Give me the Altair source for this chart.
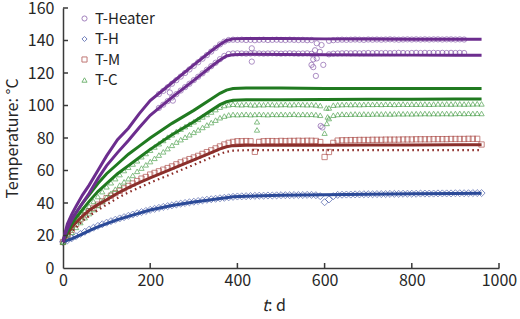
import altair as alt
import pandas as pd

# ---------------- simulated curves ----------------
t_sim = [0, 5, 10, 20, 30, 45, 60, 80, 100, 125, 150, 175, 200, 250, 300,
         340, 360, 375, 390, 420, 500, 600, 700, 800, 900, 960]

heater_hi_sim = [16, 22, 27, 33, 38, 45, 51, 60, 69, 79, 86, 95, 103, 114, 125,
                 133.5, 137.5, 140, 141, 141.3, 141.2, 141, 140.9, 140.8, 140.8, 140.8]
heater_lo_sim = [16, 20.5, 24, 29.5, 34, 40, 46, 55, 63, 71, 78.5, 86.5, 94, 105, 115.5,
                 124, 128, 130.5, 131.3, 131.5, 131.4, 131.2, 131.1, 131, 131, 131]
tc_hi_sim = [16, 21, 25, 30, 34, 40, 45, 52, 58, 64, 70, 75, 80, 89, 97,
             104, 107.5, 109.5, 110.5, 110.8, 110.7, 110.5, 110.5, 110.4, 110.4, 110.4]
tc_lo_sim = [16, 19, 22, 27, 31, 36, 41, 47, 52, 58, 63, 68, 73, 82, 90,
             97, 100.5, 102.3, 103.2, 103.5, 103.6, 103.7, 103.8, 103.9, 104, 104]
tm_sim = [16, 19, 21, 25, 28, 32, 35.5, 39, 42, 46, 49.5, 52.5, 55.5, 61, 66.5,
          71, 73.3, 74.6, 75.3, 75.5, 75.6, 75.6, 75.7, 75.7, 75.8, 75.8]
tm_sim_alt = [16, 18, 19.5, 22.5, 25, 29, 32, 35.5, 39, 43, 46.5, 49.5, 52.5, 58, 63.5,
              68, 70.2, 71.5, 72.2, 72.5, 72.5, 72.5, 72.6, 72.6, 72.6, 72.6]
th_sim = [16, 16.5, 17, 18, 19.2, 21, 23, 25.3, 27.3, 29.8, 31.8, 33.8, 35.7, 38.5, 40.6,
          42, 42.8, 43.3, 43.8, 44.2, 44.8, 45.1, 45.4, 45.7, 45.9, 46]

# ---------------- measured series (10-day sampling) ----------------
t_grid = [0, 10, 20, 30, 40, 50, 60, 70, 80, 90,
          100, 110, 120, 130, 140, 150, 160, 170, 180, 190,
          200, 210, 220, 230, 240, 250, 260, 270, 280, 290,
          300, 310, 320, 330, 340, 350, 360, 370, 380, 390,
          400, 410, 420, 430, 440, 450, 460, 470, 480, 490,
          500, 510, 520, 530, 540, 550, 560, 570, 580, 590,
          600, 610, 620, 630, 640, 650, 660, 670, 680, 690,
          700, 710, 720, 730, 740, 750, 760, 770, 780, 790,
          800, 810, 820, 830, 840, 850, 860, 870, 880, 890,
          900, 910, 920, 930, 940, 950, 960]

heater_hi_meas = [None] * 22 + [
    107, 109, 111.2, 113.4, 115.6, 117.8, 120, 122.2,
    124.4, 126.6, 128.8, 131, 133.2, 135.4, 137.6, 139.3, 140.3, 140.5,
    140.4, 140.5, 140.3, 140.4, 140.2, 140.4, 140.5, 140.3, 140.4, 140.5,
    140.4, 140.3, 140.5, 140.4, 140.3, 140.4, 140.2, 140.3, None, None,
    None, 139.8, 140.2, 140.4, 140.5, 140.4, 140.5, 140.6, 140.5, 140.4,
    140.6, 140.5, 140.6, 140.5, 140.6, 140.7, 140.6, 140.5, 140.6, 140.7,
    140.6, 140.7, 140.6, 140.7, 140.6, 140.7, 140.7, 140.6, 140.7, 140.7,
    140.6, 140.7, 140.6]
heater_lo_meas = [None] * 22 + [
    98.5, 100.5, 102.7, 104.9, 107, 109.2, 111.3, 113.4,
    115.6, 117.7, 119.8, 122, 124.2, 126.3, 128.5, 130.5, 131.7, 132,
    132.1, 132, 131.9, 132, 132.1, 132, 131.9, 132, 132.1, 132,
    131.9, 132, 132.1, 132, 131.9, 132, 132.1, 131.8, None, None,
    None, 131.5, 131.9, 132, 132.1, 132.2, 132.1, 132.2, 132.1, 132.2,
    132.3, 132.2, 132.3, 132.2, 132.3, 132.2, 132.3, 132.4, 132.3, 132.2,
    132.3, 132.4, 132.3, 132.4, 132.3, 132.4, 132.3, 132.4, 132.3, 132.4,
    132.3, 132.4, 132.3]
heater_out_t = [245, 252, 433, 433, 570, 574, 574, 578, 580, 582, 582, 589, 593, 597, 591, 595]
heater_out_v = [108, 103, 135.2, 127, 125, 128.4, 123.6, 134, 118.2, 138.3, 129, 133, 137.2, 125, 87.4, 86.5]

th_meas = [16, 17, 18.3, 19.6, 21, 22.3, 23.6, 24.8, 25.9, 26.9,
           27.9, 28.8, 29.7, 30.5, 31.3, 32.1, 32.9, 33.7, 34.4, 35.1,
           35.8, 36.4, 37, 37.6, 38.1, 38.6, 39.1, 39.6, 40, 40.4,
           40.8, 41.2, 41.6, 42, 42.3, 42.6, 42.9, 43.2, 43.5, 43.8,
           44, 44.1, 44.2, 44.3, 44.4, 44.5, 44.5, 44.6, 44.6, 44.7,
           44.8, 44.8, 44.8, 44.9, 44.9, 44.9, 45, 45, 44.8, 44.2,
           40.5, 42.2, 44.2, 45, 45.1, 45.2, 45.2, 45.3, 45.3, 45.4,
           45.4, 45.4, 45.5, 45.5, 45.5, 45.6, 45.6, 45.6, 45.7, 45.7,
           45.7, 45.7, 45.8, 45.8, 45.8, 45.8, 45.9, 45.9, 45.9, 45.9,
           46, 46, 46, 46, 46.1, 46.1, 46.1]

tm_meas = [16, 20, 23.5, 27, 30, 32.5, 35, 37, 39, 41,
           43, 44.5, 46, 47.5, 49, 50.5, 52, 53.5, 55, 56,
           57.5, 58.5, 59.5, 60.5, 61.5, 62.5, 63.8, 65, 66, 67,
           68, 69, 70.2, 71.3, 72.4, 73.6, 74.8, 76, 77, 77.6,
           78, 78, 78.1, 78, 71.5, 77.6, 78, 78.1, 78.1, 78,
           78.2, 78.1, 78.2, 78.2, 78.3, 78.2, 78.3, 78.3, 78.2, 77.5,
           68.3, 71.4, 77, 78.4, 78.6, 78.6, 78.7, 78.7, 78.8, 78.8,
           78.8, 78.9, 78.9, 78.9, 79, 79, 79, 79, 79.1, 79.1,
           79.1, 79.2, 79.2, 79.2, 79.2, 79.3, 79.3, 79.3, 79.3, 79.4,
           79.4, 79.4, 79.4, 79.5, 79.5, 79.5, 76]

tc_hi_meas = [16, 21, 25, 29, 32, 35, 38, 41, 44, 47,
              50, 52.5, 55, 57.5, 60, 62, 64, 66, 68.5, 70.5,
              72.5, 74.5, 76.5, 78.5, 80.5, 82, 84, 85.5, 87, 88.5,
              90, 91.5, 93, 94.5, 96, 97.5, 99, 100, 100.5, 100.8,
              100.6, 100.5, 100.7, 100.5, 100.4, 100.6, 100.5, 100.7, 100.6, 100.5,
              100.6, 100.7, 100.5, 100.6, 100.7, 100.6, 100.5, 100.6, 100.4, 100,
              None, 98.5, 100.2, 100.5, 100.6, 100.7, 100.6, 100.7, 100.6, 100.7,
              100.8, 100.7, 100.8, 100.7, 100.8, 100.8, 100.7, 100.8, 100.9, 100.8,
              100.9, 100.8, 100.9, 100.9, 100.8, 100.9, 101, 100.9, 101, 100.9,
              101, 101, 100.9, 101, 101, 101.1, 101]
tc_lo_meas = [16, 19, 22, 25, 28, 31, 33.5, 36, 38.5, 41,
              43.5, 46, 48.5, 51, 53, 55, 57, 59.5, 61.5, 63.5,
              65.5, 67.5, 69.5, 71.5, 73.5, 75.5, 77.5, 79, 80.5, 82,
              83.5, 85, 86.5, 88, 89.5, 91, 92.5, 93.5, 94.2, 94.5,
              94.4, 94.5, 94.6, 94.4, 94.5, 94.6, 94.5, 94.4, 94.6, 94.5,
              94.6, 94.5, 94.6, 94.7, 94.5, 94.6, 94.5, 94.6, 94.4, 94,
              None, 92, 94, 94.5, 94.7, 94.6, 94.7, 94.8, 94.7, 94.8,
              94.7, 94.8, 94.9, 94.8, 94.9, 94.8, 94.9, 95, 94.9, 95,
              94.9, 95, 95, 95.1, 95, 95.1, 95, 95.1, 95.1, 95,
              95.1, 95.2, 95.1, 95.2, 95.1, 95.2, 95.1]
tc_out_t = [445, 445, 600, 604, 605, 607]
tc_out_v = [90, 85, 83, 98.5, 89, 93]

groups = ["T-Heater", "T-H", "T-M", "T-C"]
marker_colors = ["#7d4ea3", "#3a4fa2", "#a63f3b", "#3d983d"]
marker_shapes = ["circle", "diamond", "square", "triangle-up"]

x_ticks_at = [0, 200, 400, 600, 800, 1000]
y_ticks_at = [0, 20, 40, 60, 80, 100, 120, 140, 160]

FONT = "Noto Sans CJK JP"
INK = "#262626"
AXIS_INK = "#3a3a3a"

# ---------------- tables ----------------
rows = []
def add_meas(name, ts, vs):
    for t, v in zip(ts, vs):
        if v is not None:
            rows.append({"t": t, "T": v, "group": name})

add_meas("T-Heater", t_grid, heater_hi_meas)
add_meas("T-Heater", t_grid, heater_lo_meas)
add_meas("T-Heater", heater_out_t, heater_out_v)
add_meas("T-H", t_grid, th_meas)
add_meas("T-M", t_grid, tm_meas)
add_meas("T-C", t_grid, tc_hi_meas)
add_meas("T-C", t_grid, tc_lo_meas)
add_meas("T-C", tc_out_t, tc_out_v)
meas = pd.DataFrame(rows)

x_scale = alt.Scale(domain=[0, 1000], nice=False)
y_scale = alt.Scale(domain=[0, 160], nice=False)

x_enc = alt.X("t:Q", scale=x_scale,
              axis=alt.Axis(values=x_ticks_at, title=None,
                            format="d", labelPadding=4, labelOverlap=False,
                            labelFlush=False))
y_enc = alt.Y("T:Q", scale=y_scale,
              axis=alt.Axis(values=y_ticks_at,
                            format="d", title="Temperature: °C",
                            titleX=-51, titleY=130, titleAngle=270,
                            titleAlign="center", titleBaseline="middle",
                            labelPadding=9, labelOverlap=False, labelFlush=False))

legend = alt.Legend(orient="none", legendX=14, legendY=3, title=None,
                    labelFontSize=15, labelFont=FONT, labelColor=INK,
                    symbolSize=26, symbolStrokeWidth=1,
                    rowPadding=4.5, labelOffset=3, padding=0)

points = alt.Chart(meas).mark_point(filled=False, size=28, strokeWidth=0.9).encode(
    x=x_enc,
    y=y_enc,
    color=alt.Color("group:N", scale=alt.Scale(domain=groups, range=marker_colors),
                    legend=legend),
    shape=alt.Shape("group:N", scale=alt.Scale(domain=groups, range=marker_shapes),
                    legend=legend),
    size=alt.condition(alt.datum.group == "T-H", alt.value(50), alt.value(28)),
)

def sim_line(values, color, width=3.0, dash=None):
    df = pd.DataFrame({"t": t_sim, "T": values})
    kw = dict(color=color, strokeWidth=width)
    if dash:
        kw["strokeDash"] = dash
    return alt.Chart(df).mark_line(**kw).encode(x=x_enc, y=y_enc)

lines = [
    sim_line(th_sim, "#2b4a98"),
    sim_line(tm_sim_alt, "#8b2a26", 2.2, [1.6, 3.4]),
    sim_line(tm_sim, "#8b2f2b"),
    sim_line(tc_lo_sim, "#207a20"),
    sim_line(tc_hi_sim, "#207a20"),
    sim_line(heater_lo_sim, "#6c2d8e"),
    sim_line(heater_hi_sim, "#6c2d8e"),
]

# inward tick marks (same axis definitions so the shared axes merge cleanly)
x_ticks = alt.Chart(pd.DataFrame({"t": x_ticks_at[1:]})).mark_rule(
    color=AXIS_INK, strokeWidth=1.5).encode(
    x=x_enc, y=alt.value(260), y2=alt.value(255))
y_ticks = alt.Chart(pd.DataFrame({"T": y_ticks_at[1:]})).mark_rule(
    color=AXIS_INK, strokeWidth=1.5).encode(
    y=y_enc, x=alt.value(0), x2=alt.value(5))

# x-axis title with italic variable
title_src = alt.Data(values=[{"k": 0}])
x_title_var = alt.Chart(title_src).mark_text(
    text="t", font=FONT, fontSize=16, fontStyle="italic",
    align="right", baseline="middle", color=INK).encode(
    x=alt.value(205), y=alt.value(298))
x_title_unit = alt.Chart(title_src).mark_text(
    text=": d", font=FONT, fontSize=16,
    align="left", baseline="middle", color=INK).encode(
    x=alt.value(205), y=alt.value(298))

chart = alt.layer(points, *lines, x_ticks, y_ticks, x_title_var, x_title_unit).properties(
    width=436, height=260,
    padding={"left": 63, "top": 8, "right": 21, "bottom": 51},
    autosize=alt.AutoSizeParams(type="none"),
).configure_view(stroke=None).configure_axis(
    grid=False, ticks=False, domainColor=AXIS_INK, domainWidth=1.5,
    labelFont=FONT, labelFontSize=16, labelColor=INK,
    titleFont=FONT, titleFontSize=16, titleFontWeight="normal",
    titleColor=INK,
)

chart.save("out.html", embed_options={"renderer": "svg", "actions": False})
